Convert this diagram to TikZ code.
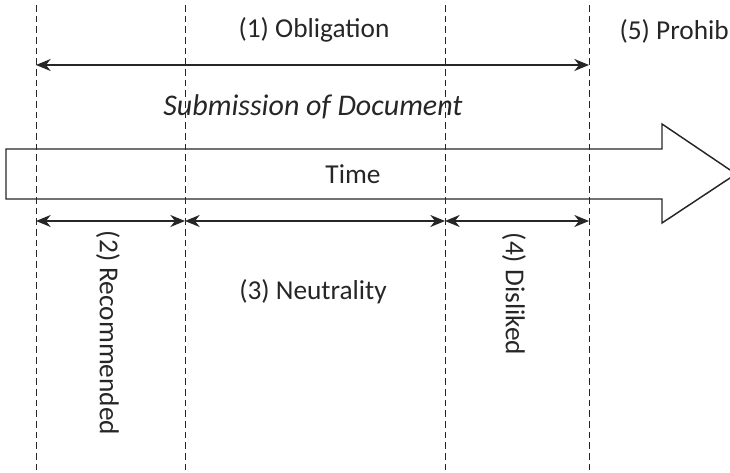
\documentclass[tikz,border=0pt]{standalone}
\usepackage{fontspec}
\setmainfont{Carlito}
\usetikzlibrary{arrows.meta}
\definecolor{ink}{HTML}{262626}
\tikzset{>={Stealth[length=11pt,width=9pt,inset=3.5pt]},every node/.style={font=\fontsize{20.5}{24}\selectfont,text=ink},guide/.style={draw=ink,line width=.75pt,dash pattern=on 5pt off 3pt},span/.style={draw=ink,line width=1.1pt,<->},band/.style={draw=ink,line width=1.1pt}}

\begin{document}
\begin{tikzpicture}[x=.75pt,y=-.75pt]
\useasboundingbox (0,0) rectangle (730,473);\clip (0,0) rectangle (730,473);
% big time arrow
\draw[band] (6,149)--(662,149)--(662,124)--(736,174)--(662,223)--(662,199)--(6,199)--cycle;
\node (time) at (353,174){Time};
% dashed guides
\foreach \n/\x in {a/36,b/185,c/445,d/589}{\draw[guide] (\x,5)--(\x,473);\coordinate (top-\n) at (\x,65);\coordinate (low-\n) at (\x,221);}
\draw[span] (top-a)--(top-d);
\draw[span] (low-a)--(low-b);\draw[span] (low-b)--(low-c);\draw[span] (low-c)--(low-d);
\node (obl) at (314,30){(1) Obligation};
\node[font=\fontsize{22.5}{26}\selectfont\itshape] (sub) at (313,107){Submission of Document};
\node[rotate=-90] (rec) at (108,333){(2) Recommended};
\node (neu) at (313,292){(3) Neutrality};
\node[rotate=-90] (dis) at (514,294){(4) Disliked};
\node[anchor=east,inner sep=0pt] (pro) at (729,31){(5) Prohib};
\end{tikzpicture}
\end{document}
